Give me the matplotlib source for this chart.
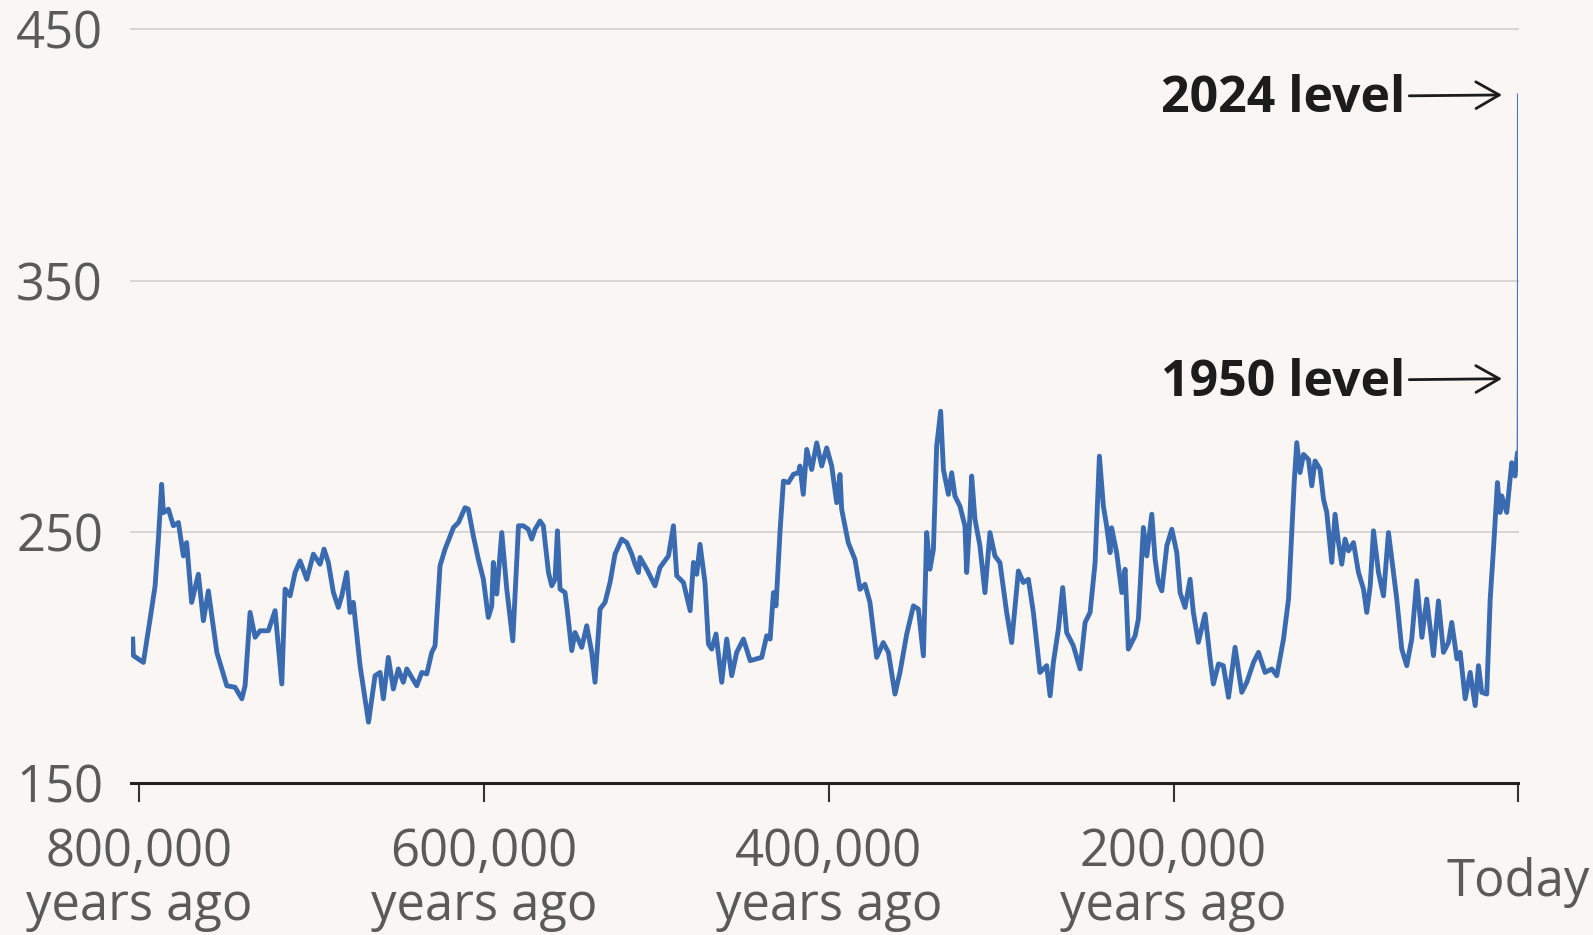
import matplotlib

matplotlib.use("Agg")

import matplotlib.pyplot as plt  # noqa: E402
import matplotlib.transforms as mtransforms  # noqa: E402
import numpy as np  # noqa: E402

# CO2 (ppm) against thousands of years ago, one glacial
# stretch per list.
cycle_800_610 = [
    (803.8, 207.3), (803.4, 200.7), (797.6, 198.0), (793.7, 215.3), (790.8, 228.5),
    (788.9, 247.1), (787.0, 268.9), (786.0, 257.6), (783.1, 259.0), (780.2, 252.4),
    (777.3, 253.7), (774.4, 240.4), (772.5, 245.7), (769.6, 221.9), (765.7, 233.1),
    (762.8, 214.6), (759.9, 226.5), (755.0, 202.0), (749.2, 188.7), (744.4, 188.1),
    (740.5, 183.5), (738.6, 188.7), (735.7, 217.9), (732.8, 208.0), (729.9, 210.6),
    (725.1, 210.6), (721.2, 218.6), (717.3, 189.4), (715.4, 227.2), (712.5, 224.5),
    (709.6, 233.8), (706.7, 238.4), (702.8, 231.1), (699.0, 241.1), (695.1, 237.1),
    (692.8, 243.1), (690.3, 237.8), (687.4, 225.9), (684.5, 219.9), (682.5, 224.5),
    (679.6, 233.8), (677.7, 217.9), (675.8, 221.9), (671.9, 196.7), (667.0, 174.2),
    (663.2, 192.7), (660.3, 194.0), (658.4, 183.5), (655.5, 200.0), (652.6, 187.4),
    (649.7, 195.4), (646.8, 190.1), (644.8, 195.4), (639.0, 188.7), (636.1, 194.0),
    (633.2, 193.4), (630.3, 202.0), (628.4, 204.6), (625.5, 236.5), (622.6, 243.1),
    (617.7, 251.7), (614.8, 253.7),
]
cycle_610_417 = [
    (611.0, 259.6), (609.1, 259.0), (606.2, 248.4), (603.3, 239.1), (600.4, 231.2),
    (597.5, 215.9), (595.5, 220.5), (594.6, 237.8), (592.6, 225.2), (589.7, 249.7),
    (586.8, 227.2), (583.3, 206.6), (580.0, 252.4), (577.2, 252.4), (574.3, 251.0),
    (572.3, 247.1), (570.4, 251.0), (567.5, 254.3), (565.6, 252.4), (562.6, 233.8),
    (560.7, 228.5), (558.8, 231.1), (557.4, 250.4), (555.9, 227.2), (553.0, 225.8),
    (552.0, 220.5), (549.1, 202.7), (547.2, 209.9), (543.3, 204.0), (540.4, 212.6),
    (537.5, 202.0), (535.6, 190.1), (532.7, 219.2), (529.8, 221.9), (526.9, 229.8),
    (524.0, 241.1), (520.1, 247.1), (517.2, 245.7), (514.3, 241.1), (512.4, 237.1),
    (510.4, 233.8), (509.5, 239.8), (505.6, 235.1), (500.8, 228.5), (497.9, 235.8),
    (493.0, 240.4), (490.1, 252.4), (488.2, 232.5), (484.3, 229.8), (480.4, 218.6),
    (478.5, 237.8), (476.6, 233.1), (474.7, 245.0), (471.8, 229.8), (469.8, 205.3),
    (467.9, 203.3), (465.4, 209.3), (462.1, 190.1), (459.2, 207.3), (456.3, 192.7),
    (453.4, 202.0), (449.5, 207.3), (445.6, 198.7), (438.9, 200.0), (436.0, 208.6),
    (434.0, 207.3), (432.1, 225.8), (430.6, 220.5), (428.2, 251.0), (426.3, 270.2),
    (423.4, 269.6), (420.5, 272.9), (417.6, 273.5),
]
cycle_417_220 = [
    (416.7, 276.2), (414.8, 264.9), (412.8, 282.8), (409.9, 274.8), (407.0, 285.4),
    (404.1, 276.2), (401.2, 283.4), (398.3, 276.2), (395.4, 261.6), (393.5, 272.8),
    (392.5, 258.9), (388.7, 245.7), (384.8, 239.0), (381.9, 227.1), (379.0, 229.1),
    (376.1, 221.8), (372.2, 200.0), (368.4, 205.9), (365.4, 202.0), (361.6, 185.4),
    (358.7, 194.0), (354.8, 209.2), (350.9, 220.5), (348.0, 219.2), (345.1, 200.6),
    (343.2, 249.7), (341.3, 235.1), (339.3, 243.0), (337.4, 284.1), (335.1, 298.0),
    (333.5, 274.8), (330.6, 264.9), (328.7, 273.5), (326.8, 264.2), (323.9, 260.2),
    (321.0, 252.3), (320.0, 233.8), (318.1, 256.3), (317.1, 272.2), (315.2, 255.0),
    (312.3, 244.4), (309.4, 225.8), (306.5, 249.7), (303.6, 240.4), (300.7, 237.7),
    (296.8, 217.9), (293.9, 205.9), (290.0, 234.4), (287.1, 229.8), (284.2, 231.1),
    (281.3, 217.9), (277.5, 194.0), (273.6, 196.7), (271.6, 184.7), (269.7, 198.0),
    (266.8, 211.2), (264.3, 227.8), (262.0, 209.9), (258.1, 204.6), (254.2, 195.4),
    (251.3, 213.9), (248.4, 217.9), (245.5, 237.7), (243.0, 280.1), (240.7, 260.2),
    (238.8, 252.3), (236.8, 241.7), (235.9, 251.6), (233.0, 241.7), (230.0, 225.8),
    (228.1, 235.1), (226.2, 203.3), (222.3, 208.6), (220.4, 215.2),
]
cycle_220_0 = [
    (217.5, 251.7), (215.5, 240.4), (212.6, 257.0), (210.7, 239.1), (208.8, 229.8),
    (206.8, 226.5), (203.9, 244.4), (201.0, 251.0), (198.1, 241.7), (196.2, 225.8),
    (193.3, 219.9), (190.4, 231.1), (188.5, 217.9), (185.6, 206.0), (181.7, 217.2),
    (178.8, 199.4), (176.9, 189.4), (173.9, 197.4), (171.1, 196.7), (168.1, 184.1),
    (164.3, 204.0), (160.4, 186.1), (157.5, 190.1), (153.6, 198.0), (150.7, 202.0),
    (146.9, 194.0), (143.0, 195.4), (140.1, 192.7), (136.2, 207.3), (133.3, 223.2),
    (131.4, 249.7), (130.0, 269.6), (128.5, 285.5), (126.6, 273.6), (124.6, 280.8),
    (121.7, 278.8), (119.8, 268.3), (117.9, 278.2), (115.0, 274.9), (113.0, 263.0),
    (111.1, 257.7), (108.2, 237.8), (106.3, 257.0), (104.3, 245.7), (102.4, 237.1),
    (100.5, 247.1), (98.5, 242.4), (95.6, 245.7), (92.7, 233.8), (89.8, 227.2),
    (87.9, 217.9), (85.9, 228.5), (84.0, 250.4), (81.1, 233.8), (78.2, 224.5),
    (75.3, 249.7), (72.4, 233.8), (70.5, 223.2), (67.6, 203.3), (64.7, 196.7),
    (61.8, 207.3), (58.9, 230.5), (55.9, 208.0), (53.1, 223.2), (49.2, 200.7),
    (46.3, 222.5), (43.4, 202.0), (40.5, 206.0), (38.6, 213.9), (35.6, 199.4),
    (33.7, 202.0), (30.8, 183.5), (27.9, 194.0), (25.0, 180.8), (23.1, 196.7),
    (21.2, 186.1), (18.3, 185.4), (16.3, 223.2), (14.4, 243.1), (12.1, 269.6),
    (10.6, 257.7), (9.6, 264.3), (6.7, 257.7), (3.8, 277.5), (1.9, 272.2),
    (0.5, 281.5), (0.2, 280.0),
]
# industrial rise: pre-industrial, 1950, 2024
modern = [(0.2, 280.0), (0.074, 311.0), (0.0, 424.0)]

levels = {"2024 level": 424.0, "1950 level": 311.0}

x_ticks = [800, 600, 400, 200, 0]
x_labels = ["800,000\nyears ago", "600,000\nyears ago", "400,000\nyears ago",
            "200,000\nyears ago", "Today"]
y_ticks = [150, 250, 350, 450]

BG = "#f9f6f4"
BLUE = "#3a6bb1"
GRID = "#d8d5d3"
TXT = "#5a5a5a"
INK = "#1c1c1c"

plt.rcParams["font.family"] = ["Open Sans", "DejaVu Sans"]

fig = plt.figure(figsize=(15.93, 9.35), dpi=100, facecolor=BG)
ax = fig.add_axes([0.0820, 0.1626, 0.8711, 0.8059], facecolor=BG)

series = np.array(cycle_800_610 + cycle_610_417 + cycle_417_220 + cycle_220_0)
ax.plot(series[:, 0], series[:, 1], color=BLUE, lw=3.5, solid_joinstyle="round",
        zorder=3)
mod = np.array(modern)
ax.plot(mod[:, 0], mod[:, 1], color="#4a78bb", lw=1.9, zorder=3)

ax.set_xlim(805, 0)
ax.set_ylim(150, 450)

# text sits a touch below the arrow's centre line; relpos keeps the arrow level
for name, val in levels.items():
    ax.annotate(name, xy=(0, val), xytext=(-81.5, -3), textcoords="offset points",
                ha="right", va="center", fontsize=36, fontweight="bold", color=INK,
                arrowprops=dict(arrowstyle="->,head_length=0.42,head_width=0.24",
                                lw=2.0, color=INK, shrinkA=1, shrinkB=11.7,
                                mutation_scale=40, relpos=(1.0, 0.561)), zorder=4)

ax.set_yticks(y_ticks)
ax.set_yticklabels([str(v) for v in y_ticks])
ax.set_xticks(x_ticks)
ax.set_xticklabels(x_labels, linespacing=1.07)

ax.tick_params(axis="y", length=0, pad=82.5, labelsize=36.5, labelcolor=TXT)
ax.tick_params(axis="x", length=14, width=1.5, color="#333333", pad=18,
               labelsize=36.5, labelcolor=TXT)
for lab in ax.get_yticklabels():
    lab.set_ha("left")

ax.grid(True, axis="y", color=GRID, lw=1.4)
ax.set_axisbelow(True)
for gl in ax.get_ygridlines():
    gl.set_clip_on(False)

for side in ("top", "right", "left"):
    ax.spines[side].set_visible(False)
ax.spines["bottom"].set_linewidth(2.2)
ax.spines["bottom"].set_color("#222222")
ax.spines["bottom"].set_zorder(5)

# "Today" sits between the two label rows
today = ax.get_xticklabels()[-1]
today.set_transform(today.get_transform()
                    + mtransforms.ScaledTranslation(0, -21 / 72, fig.dpi_scale_trans))

fig.savefig("out.png", dpi=100, facecolor=BG)
